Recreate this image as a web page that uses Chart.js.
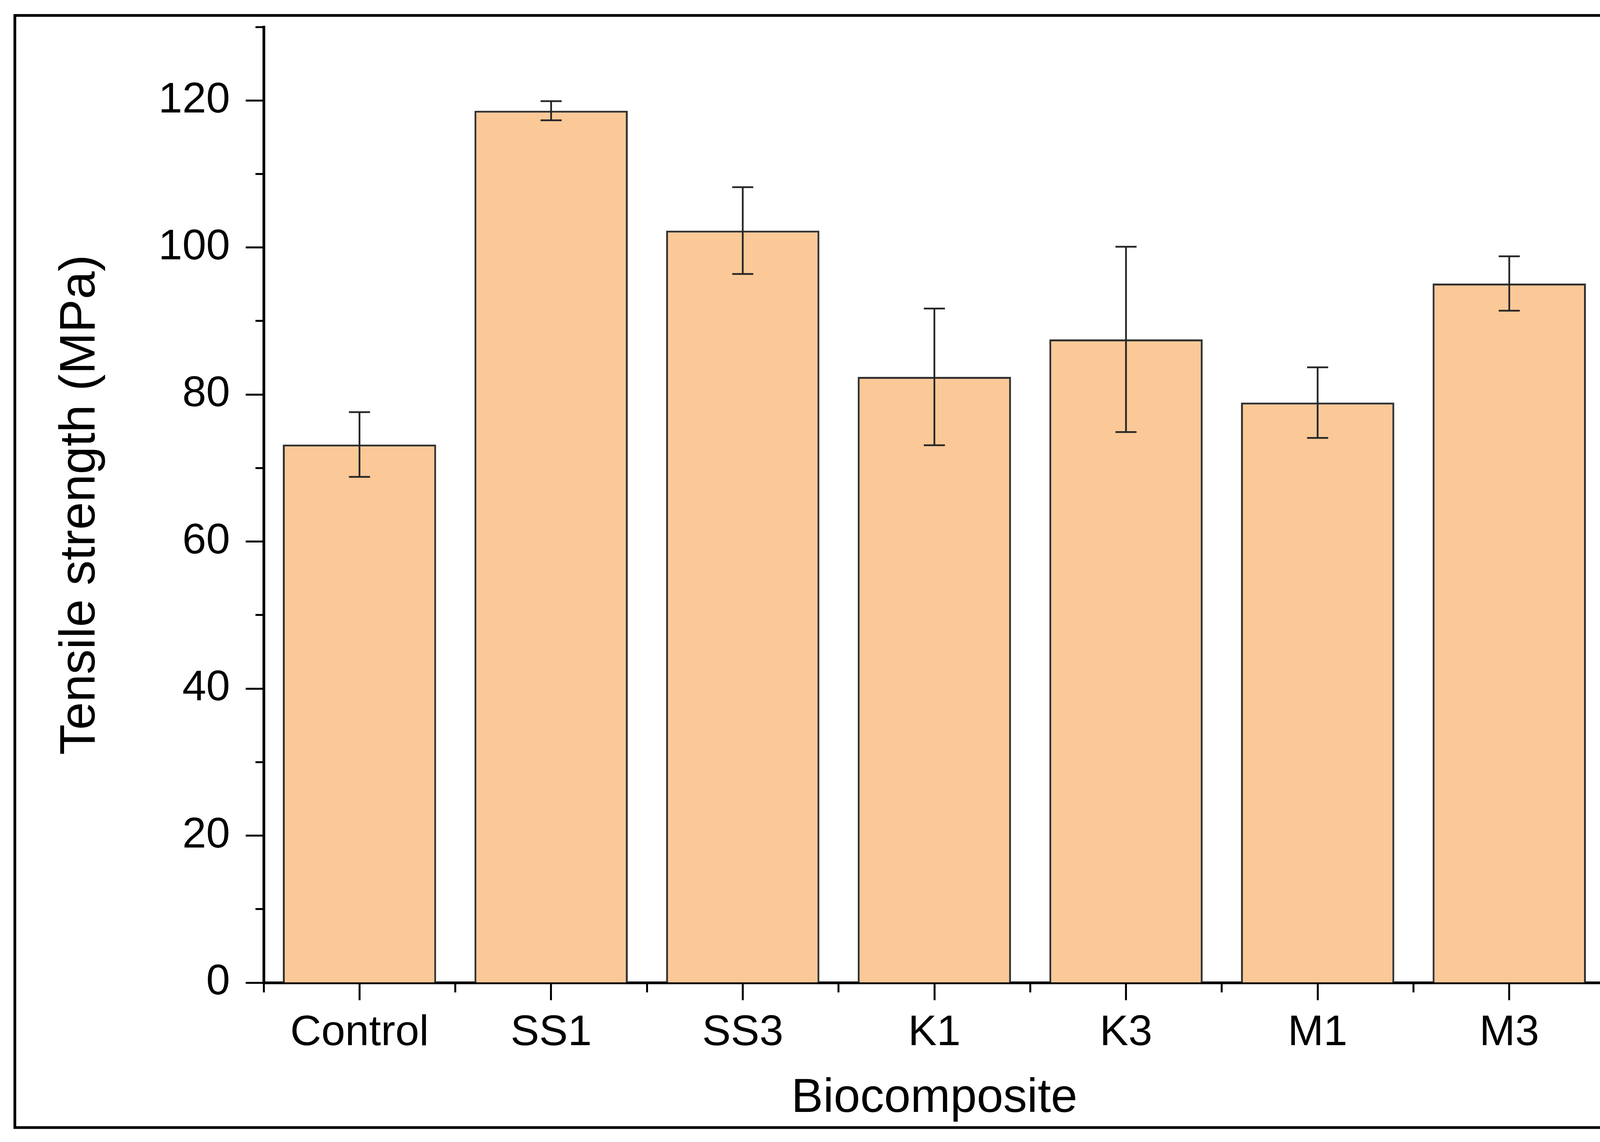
<!DOCTYPE html>
<html>
<head>
<meta charset="utf-8">
<style>
  html, body { margin: 0; padding: 0; background: #ffffff; }
  canvas { display: block; }
</style>
<script src="https://cdn.jsdelivr.net/npm/chart.js"></script>
</head>
<body>
<canvas id="c" width="4244" height="2924" style="width:4244px;height:2924px"></canvas>
<script>
// ---- data ----
const categories = ['Control', 'SS1', 'SS3', 'K1', 'K3', 'M1', 'M3'];
const tensileMean = [73.2, 118.6, 102.3, 82.4, 87.5, 78.9, 95.1];
const tensileSD = [4.4, 1.3, 5.9, 9.3, 12.6, 4.8, 3.7];
const yMajorTicks = [0, 20, 40, 60, 80, 100, 120];
const yMinorStep = 10;
const yMin = 0;
const yMax = 130;
const xTitle = 'Biocomposite';
const yTitle = 'Tensile strength (MPa)';

const FONT = "'Liberation Sans', Arial, Helvetica, sans-serif";

const framePlugin = {
  id: 'frame',
  beforeDraw(chart) {
    const ctx = chart.ctx;
    ctx.save();
    ctx.fillStyle = '#ffffff';
    ctx.fillRect(0, 0, chart.width, chart.height);
    ctx.strokeStyle = '#000000';
    ctx.lineWidth = 7;
    ctx.strokeRect(38, 39.5, 4207 - 38, 2887 - 39.5);
    ctx.restore();
  }
};

const errorBarPlugin = {
  id: 'errorBars',
  afterDatasetsDraw(chart) {
    const ctx = chart.ctx;
    const yScale = chart.scales.y;
    chart.data.datasets.forEach((ds, di) => {
      const meta = chart.getDatasetMeta(di);
      meta.data.forEach((bar, i) => {
        const sd = ds.errors[i];
        const v = ds.data[i];
        const yTop = yScale.getPixelForValue(v + sd);
        const yBot = yScale.getPixelForValue(v - sd);
        const x = bar.x;
        const cap = 27;
        ctx.save();
        ctx.strokeStyle = '#262626';
        ctx.lineWidth = 4.5;
        ctx.beginPath();
        ctx.moveTo(x, yTop); ctx.lineTo(x, yBot);
        ctx.moveTo(x - cap, yTop); ctx.lineTo(x + cap, yTop);
        ctx.moveTo(x - cap, yBot); ctx.lineTo(x + cap, yBot);
        ctx.stroke();
        ctx.restore();
      });
    });
  }
};

new Chart(document.getElementById('c'), {
  type: 'bar',
  data: {
    labels: categories,
    datasets: [{
      label: 'Tensile strength',
      data: tensileMean,
      errors: tensileSD,
      backgroundColor: '#FBC997',
      borderColor: '#333333',
      borderWidth: 5,
      barPercentage: 0.8,
      categoryPercentage: 1.0
    }]
  },
  options: {
    responsive: false,
    devicePixelRatio: 1,
    animation: false,
    layout: { padding: { left: 100, top: 69, right: 135, bottom: 0 } },
    plugins: {
      legend: { display: false },
      tooltip: { enabled: false },
      title: { display: false }
    },
    scales: {
      x: {
        type: 'category',
        position: 'bottom',
        weight: 1,
        offset: true,
        grid: {
          offset: false,
          drawOnChartArea: false,
          drawTicks: true,
          tickLength: 45,
          tickWidth: 5,
          tickColor: '#000000'
        },
        border: { display: true, color: '#000000', width: 7 },
        ticks: {
          color: '#000000',
          font: { family: FONT, size: 110 },
          padding: 19,
          maxRotation: 0,
          autoSkip: false
        },
        title: {
          display: true,
          text: xTitle,
          color: '#000000',
          font: { family: FONT, size: 122 },
          padding: { top: 0, bottom: 37 }
        },
        afterFit(scale) { scale.height = 408; }
      },
      x2: {
        type: 'category',
        position: 'bottom',
        weight: 0,
        offset: true,
        grid: {
          offset: true,
          drawOnChartArea: false,
          drawTicks: true,
          tickLength: 25,
          tickWidth: 5,
          tickColor: (ctx) => (ctx.index === categories.length ? 'rgba(0,0,0,0)' : '#000000')
        },
        border: { display: false },
        ticks: { display: false },
        afterFit(scale) { scale.height = 0; }
      },
      y: {
        type: 'linear',
        position: 'left',
        weight: 1,
        min: yMin,
        max: yMax,
        grid: {
          drawOnChartArea: false,
          drawTicks: true,
          tickLength: 46,
          tickWidth: 5,
          tickColor: '#000000'
        },
        border: { display: true, color: '#000000', width: 7 },
        ticks: {
          color: '#000000',
          font: { family: FONT, size: 110, lineHeight: 0.5 },
          padding: 40
        },
        afterBuildTicks(scale) {
          scale.ticks = yMajorTicks.map(v => ({ value: v }));
        },
        title: {
          display: true,
          text: yTitle,
          color: '#000000',
          font: { family: FONT, size: 128 },
          padding: { top: 30, bottom: 0 }
        },
        afterFit(scale) { scale.width = 575; }
      },
      y2: {
        type: 'linear',
        position: 'left',
        weight: 0,
        min: yMin,
        max: yMax,
        grid: {
          drawOnChartArea: false,
          drawTicks: true,
          tickLength: 21,
          tickWidth: 5,
          tickColor: '#000000'
        },
        border: { display: false },
        ticks: { display: false, stepSize: yMinorStep },
        afterFit(scale) { scale.width = 0; }
      }
    }
  },
  plugins: [framePlugin, errorBarPlugin]
});
</script>
</body>
</html>
